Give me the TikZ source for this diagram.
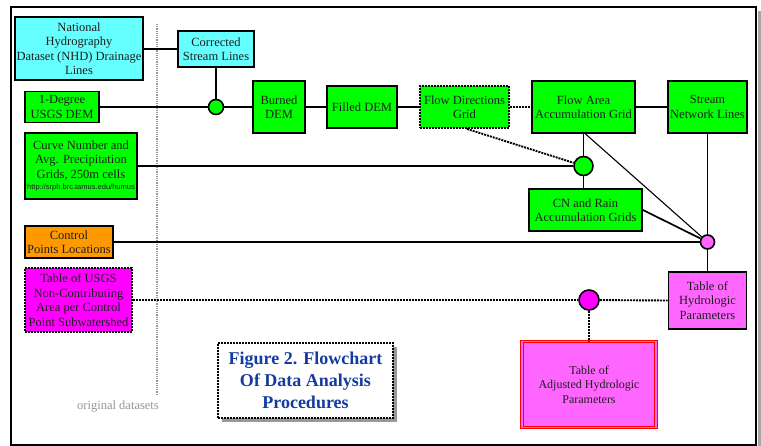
\documentclass[tikz,border=0pt]{standalone}
\usepackage{fontspec}
\setmainfont{Liberation Serif}
\newfontfamily\urlfont{Liberation Sans}
\definecolor{cgreen}{RGB}{0,255,0}
\definecolor{ccyan}{RGB}{102,255,255}
\definecolor{corange}{RGB}{255,153,0}
\definecolor{cmag}{RGB}{255,0,255}
\definecolor{cpink}{RGB}{255,102,255}
\definecolor{ctitle}{RGB}{20,60,160}
\definecolor{ctext}{RGB}{30,30,30}
\definecolor{cgrey}{RGB}{150,150,150}
\tikzset{
 box/.style={draw=black, line width=1.9pt, inner sep=0pt, align=center, text=ctext, font=\fontsize{12.5}{14.5}\selectfont},
 dbox/.style={box, dash pattern=on 2pt off 1pt},
 junc/.style={circle, draw=black, line width=1.6pt, inner sep=0pt},
 link/.style={draw=black, line width=1.7pt},
 thinlink/.style={draw=black, line width=1.1pt},
 dlink/.style={draw=black, line width=1.9pt, dash pattern=on 2pt off 1pt},
}
\begin{document}
\begin{tikzpicture}[x=1pt,y=-1pt]
\useasboundingbox (0,0) rectangle (761,446);
% outer frame with shadow
\fill[gray!70] (758,11) rectangle (761,446);
\draw[line width=2pt, fill=white] (11,7) rectangle (756,445);
% grey dashed separator
\coordinate (sepTop) at (157,24);
\coordinate (sepBot) at (157,395);
\draw[cgrey, line width=1.3pt, dash pattern=on 1.2pt off 1pt] (sepTop) -- (sepBot);
\node[text=cgrey, font=\fontsize{12.5}{14}\selectfont] (orig) at (118,407) {original datasets};

% nodes
\node[box, fill=ccyan, minimum width=128pt, minimum height=63pt] (nhd) at (79,48.5)
 {National\\Hydrography\\Dataset (NHD) Drainage\\Lines};
\node[box, fill=ccyan, minimum width=76pt, minimum height=36pt] (csl) at (216,49)
 {Corrected\\Stream Lines};
\node[box, fill=cgreen, minimum width=74pt, minimum height=31pt] (dem1) at (62,107)
 {1-Degree\\USGS DEM};
\node[junc, fill=cgreen, minimum size=15pt] (j1) at (216,107) {};
\node[box, fill=cgreen, minimum width=52pt, minimum height=52pt] (burned) at (279,107)
 {Burned\\DEM};
\node[box, fill=cgreen, minimum width=70pt, minimum height=42pt] (filled) at (362,107)
 {Filled DEM};
\node[dbox, fill=cgreen, minimum width=89pt, minimum height=42pt] (fdg) at (464.5,107)
 {Flow Directions\\Grid};
\node[box, fill=cgreen, minimum width=103pt, minimum height=52pt] (faag) at (583.5,107)
 {Flow Area\\Accumulation Grid};
\node[box, fill=cgreen, minimum width=79pt, minimum height=52pt] (snl) at (707.5,107)
 {Stream\\Network Lines};
\node[junc, fill=cgreen, minimum size=19pt] (j2) at (583.5,166) {};
\node[box, fill=cgreen, minimum width=113pt, minimum height=42pt] (cnrain) at (585.5,210)
 {CN and Rain\\Accumulation Grids};
\node[box, fill=cgreen, minimum width=112pt, minimum height=66pt] (cn) at (81,166)
 {Curve Number and\\Avg. Precipitation\\Grids, 250m cells\\[-3pt]{\urlfont\fontsize{7.5}{8}\selectfont http://srph.brc.tamus.edu/humus}};
\node[box, fill=corange, minimum width=88pt, minimum height=32pt] (cpl) at (69,242)
 {Control\\Points Locations};
\node[junc, fill=cpink, minimum size=14pt] (j3) at (707.5,242) {};
\node[box, fill=cpink, minimum width=78pt, minimum height=57pt] (thp) at (707.5,300.5)
 {Table of\\Hydrologic\\Parameters};
\node[dbox, fill=cmag, minimum width=107pt, minimum height=64pt] (usgs) at (78.5,300)
 {Table of USGS\\Non-Contributing\\Area per Control\\Point Subwatershed};
\node[junc, fill=cmag, minimum size=20pt] (j4) at (589,300) {};
% title box with shadow
\fill[gray!80] (222,347) rectangle (397,422);
\node[dbox, fill=white, minimum width=175pt, minimum height=75pt, text=ctitle,
 font=\bfseries\fontsize{18}{22}\selectfont] (fig) at (305.5,380.5)
 {Figure 2. Flowchart\\Of Data Analysis\\Procedures};
\node[box, fill=cpink, draw=red, line width=1.3pt, double=cpink, double distance=1.2pt,
 minimum width=134pt, minimum height=86pt, font=\fontsize{12}{14.5}\selectfont] (adj) at (589,384.5)
 {Table of\\Adjusted Hydrologic\\Parameters};

% connectors
\draw[link] (nhd.east |- csl.west) -- (csl.west);
\draw[link] (csl.south) -- (j1);
\draw[link] (dem1.east) -- (j1);
\draw[link] (j1) -- (burned.west);
\draw[link] (burned.east) -- (filled.west);
\draw[link] (filled.east) -- (fdg.west);
\draw[dlink] (fdg.east) -- (faag.west);
\draw[link] (faag.east) -- (snl.west);
\draw[dlink] ([xshift=2.5pt]fdg.south) -- (j2);
\draw[link] (faag.south) -- (j2);
\draw[link] (cn.east |- j2) -- (j2);
\draw[link] (j2) -- (j2 |- cnrain.north);
\draw[thinlink] ([xshift=2pt]faag.south) -- (j3);
\draw[link] (cnrain.east) -- (j3);
\draw[link] (snl.south) -- (j3);
\draw[link] (cpl.east) -- (j3);
\draw[link] (j3) -- (thp.north);
\draw[dlink] (usgs.east) -- (j4);
\draw[dlink] (j4) -- (thp.west);
\draw[dlink] (j4) -- (adj.north);
\end{tikzpicture}
\end{document}
